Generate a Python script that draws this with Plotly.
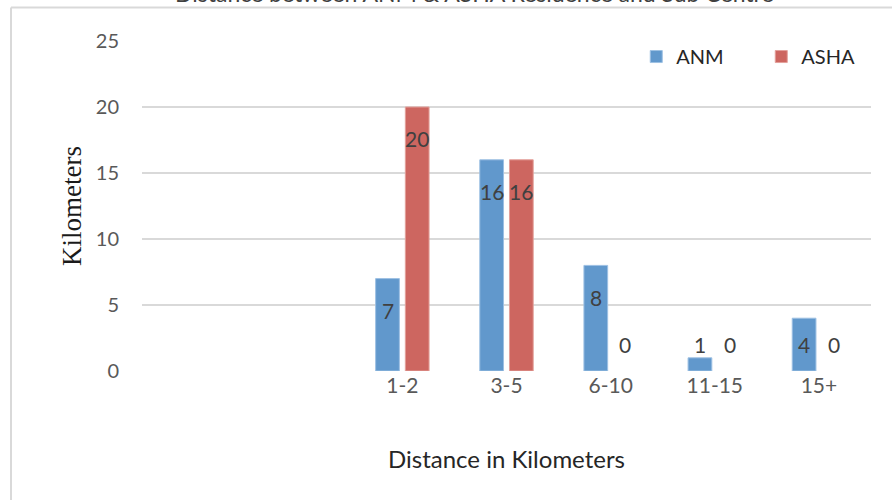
import plotly.graph_objects as go

# Distance bands and the number of workers in each band
categories = ["1-2", "3-5", "6-10", "11-15", "15+"]
anm = [7, 16, 8, 1, 4]
asha = [20, 16, 0, 0, 0]
y_ticks = [0, 5, 10, 15, 20, 25]

BLUE = "#6198CC"
RED = "#CD6660"
FONT = "Lato"

# Plot-area geometry (pixels)
W, H = 892, 500
L, R, T, B = 142, 21, 41, 129
plot_w = W - L - R
plot_h = H - T - B
n_slots = 7  # two empty bands precede the data on the axis
bargap = 0.43
slot = plot_w / n_slots
half_shift = slot * (1 - bargap) / 4  # distance from band centre to each bar centre


def outline(values):
    # thin light edge on bars that have height, none on zero bars
    return [1 if v > 0 else 0 for v in values]


fig = go.Figure()
fig.add_trace(go.Bar(
    name="ANM", x=categories, y=anm,
    marker=dict(color=BLUE, line=dict(color="#9DC0E3", width=outline(anm))),
))
fig.add_trace(go.Bar(
    name="ASHA", x=categories, y=asha,
    marker=dict(color=RED, line=dict(color="#E3A09B", width=outline(asha))),
))

# Value labels placed just inside the top of each bar
annotations = []
for series, sign in ((anm, -1), (asha, 1)):
    for cat, v in zip(categories, series):
        annotations.append(dict(
            x=cat, y=max(v - 2.4, 2.0), xref="x", yref="y",
            text=str(v), showarrow=False, xshift=sign * half_shift,
            font=dict(family=FONT, size=21, color="#404040"),
        ))

# Chart title sitting above the chart frame, mostly above the page edge
title_bottom_px = 8.5
annotations.append(dict(
    x=(474 - L) / plot_w, xref="paper", y=1 + (T - title_bottom_px) / plot_h, yref="paper",
    yanchor="bottom", xanchor="center", showarrow=False,
    text="Distance between ANM & ASHA Residence and Sub Centre",
    font=dict(family=FONT, size=23, color="#404040"),
))

# Chart frame (left and top edges)
frame_x = (11 - L) / plot_w
frame_y = 1 + (T - 7.5) / plot_h
shapes = [
    dict(type="line", xref="paper", yref="paper", x0=frame_x, x1=frame_x,
         y0=frame_y, y1=-(B + 5) / plot_h, line=dict(color="#D9D9D9", width=2)),
    dict(type="line", xref="paper", yref="paper", x0=frame_x, x1=(W - L + 5) / plot_w,
         y0=frame_y, y1=frame_y, line=dict(color="#D9D9D9", width=2)),
]

fig.update_layout(
    width=W, height=H,
    margin=dict(l=L, r=R, t=T, b=B, autoexpand=False),
    paper_bgcolor="white", plot_bgcolor="white",
    barmode="group", bargap=bargap, bargroupgap=0.2,
    showlegend=True,
    legend=dict(orientation="h", x=0.678, y=1.012, xanchor="left", yanchor="top",
                font=dict(family=FONT, size=20, color="#262626"),
                bgcolor="rgba(0,0,0,0)", itemwidth=30, entrywidth=80),
    annotations=annotations,
    shapes=shapes,
    font=dict(family=FONT),
)

fig.update_xaxes(
    type="category", categoryorder="array", categoryarray=categories,
    range=[-2.5, 4.5], showgrid=False, showline=False, zeroline=False,
    ticks="", tickfont=dict(family=FONT, size=21, color="#595959"),
    title=dict(text="Distance in Kilometers", standoff=55,
               font=dict(family=FONT, size=24, color="#262626")),
)
fig.update_yaxes(
    range=[0, 25], tickvals=y_ticks, showgrid=True, gridcolor="#D9D9D9",
    gridwidth=1.5, zeroline=False, showline=False, ticks="",
    ticklabelstandoff=22,
    tickfont=dict(family=FONT, size=20, color="#595959"),
    title=dict(text="Kilometers", standoff=6,
               font=dict(family="Liberation Serif", size=27, color="#1a1a1a")),
)

fig.write_html("out.html")
